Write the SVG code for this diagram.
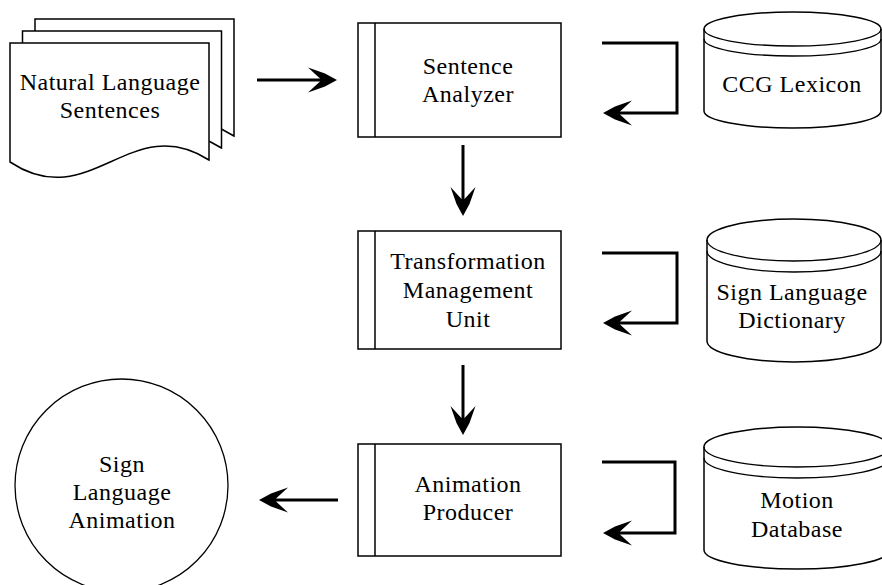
<svg xmlns="http://www.w3.org/2000/svg" xmlns:xlink="http://www.w3.org/1999/xlink" width="882" height="585" viewBox="0 0 882 585">
<style>
  .shape { fill: #ffffff; stroke: #000000; stroke-width: 1.5; }
  .thin { fill: none; stroke: #000000; stroke-width: 1.3; }
  .conn { fill: none; stroke: #000000; stroke-width: 3; stroke-linejoin: miter; }
  .head { fill: #000000; stroke: none; }
  text { font-family: "Liberation Serif", "Times New Roman", serif; font-size: 24px; fill: #000000; text-anchor: middle; letter-spacing: 0.5px; }
</style>
<defs>
  <path id="page" d="M10,43 H209 V160 C130,110 90,215 10,162 Z"/>
  <path id="ah" d="M0,0 L-12,-6.5 L-29,-12.5 L-17,-1.5 V1.5 L-29,12.5 L-12,6.5 Z"/>
</defs>
<rect x="0" y="0" width="882" height="585" fill="#ffffff"/>

<g id="natural-language-sentences">
  <use xlink:href="#page" href="#page" class="shape" transform="translate(25,-24)"/>
  <use xlink:href="#page" href="#page" class="shape" transform="translate(12.5,-12)"/>
  <use xlink:href="#page" href="#page" class="shape"/>
  <text x="110" y="90">Natural Language</text>
  <text x="110" y="118">Sentences</text>
</g>

<g id="sentence-analyzer">
  <rect class="shape" x="358" y="23" width="203" height="114"/>
  <line class="shape" x1="375" y1="23" x2="375" y2="137"/>
  <text x="468" y="74">Sentence</text>
  <text x="468" y="102">Analyzer</text>
</g>

<g id="transformation-management-unit">
  <rect class="shape" x="358" y="231" width="203" height="118"/>
  <line class="shape" x1="375" y1="231" x2="375" y2="349"/>
  <text x="468" y="269">Transformation</text>
  <text x="468" y="298">Management</text>
  <text x="468" y="327">Unit</text>
</g>

<g id="animation-producer">
  <rect class="shape" x="358" y="444" width="203" height="112"/>
  <line class="shape" x1="375" y1="444" x2="375" y2="556"/>
  <text x="468" y="492">Animation</text>
  <text x="468" y="520">Producer</text>
</g>

<g id="ccg-lexicon">
  <path class="shape" d="M704,29 A88.5,17 0 0 1 881,29 V111 A88.5,17 0 0 1 704,111 Z"/>
  <path class="thin" d="M704,29 A88.5,17 0 0 0 881,29"/>
  <path class="thin" d="M704,39 A88.5,17 0 0 0 881,39"/>
  <text x="792" y="92">CCG Lexicon</text>
</g>

<g id="sign-language-dictionary">
  <path class="shape" d="M707,240 A87,21 0 0 1 881,240 V341 A87,21 0 0 1 707,341 Z"/>
  <path class="thin" d="M707,240 A87,21 0 0 0 881,240"/>
  <path class="thin" d="M707,251 A87,21 0 0 0 881,251"/>
  <text x="792" y="300">Sign Language</text>
  <text x="792" y="328">Dictionary</text>
</g>

<g id="motion-database">
  <path class="shape" d="M704,447 A93,20 0 0 1 890,447 V550 A93,19 0 0 1 704,550 Z"/>
  <path class="thin" d="M704,447 A93,20 0 0 0 890,447"/>
  <path class="thin" d="M704,458 A93,20 0 0 0 890,458"/>
  <text x="797" y="508">Motion</text>
  <text x="797" y="537">Database</text>
</g>

<g id="sign-language-animation">
  <circle class="thin" cx="121.5" cy="485.5" r="106.5" fill="#ffffff"/>
  <text x="122" y="472">Sign</text>
  <text x="122" y="500">Language</text>
  <text x="122" y="528">Animation</text>
</g>

<g id="connectors">
  <line class="conn" x1="257" y1="80" x2="322" y2="80"/>
  <use xlink:href="#ah" href="#ah" class="head" transform="translate(337,80)"/>

  <line class="conn" x1="463" y1="145" x2="463" y2="201"/>
  <use xlink:href="#ah" href="#ah" class="head" transform="translate(463,216) rotate(90)"/>

  <line class="conn" x1="463" y1="365" x2="463" y2="420"/>
  <use xlink:href="#ah" href="#ah" class="head" transform="translate(463,435) rotate(90)"/>

  <line class="conn" x1="338" y1="500" x2="274" y2="500"/>
  <use xlink:href="#ah" href="#ah" class="head" transform="translate(259,500) rotate(180)"/>

  <path class="conn" d="M602,43 H677 V113 H618"/>
  <use xlink:href="#ah" href="#ah" class="head" transform="translate(603,113) rotate(180)"/>

  <path class="conn" d="M602,253 H677 V323 H618"/>
  <use xlink:href="#ah" href="#ah" class="head" transform="translate(603,323) rotate(180)"/>

  <path class="conn" d="M602,462 H675 V533 H618"/>
  <use xlink:href="#ah" href="#ah" class="head" transform="translate(603,533) rotate(180)"/>
</g>
</svg>
